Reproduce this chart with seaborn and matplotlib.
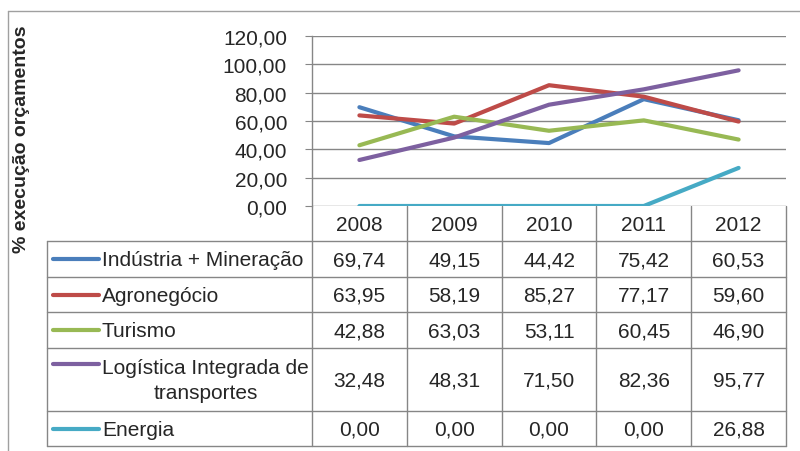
import matplotlib
matplotlib.use("Agg")
import matplotlib.pyplot as plt
import seaborn as sns
import pandas as pd

years = [2008, 2009, 2010, 2011, 2012]
sectors = ["Indústria + Mineração", "Agronegócio", "Turismo",
           "Logística Integrada de\ntransportes", "Energia"]
industria = [69.74, 49.15, 44.42, 75.42, 60.53]
agro = [63.95, 58.19, 85.27, 77.17, 59.60]
turismo = [42.88, 63.03, 53.11, 60.45, 46.90]
logistica = [32.48, 48.31, 71.50, 82.36, 95.77]
energia = [0.00, 0.00, 0.00, 0.00, 26.88]
series = [industria, agro, turismo, logistica, energia]
colors = ["#4A7EBB", "#BE4B48", "#98B954", "#7D60A0", "#46AAC5"]
yticks = [0, 20, 40, 60, 80, 100, 120]

sns.set_style("white")
plt.rcParams["font.family"] = ["Liberation Sans", "DejaVu Sans"]
FS = 15
grid_c = "#868686"

W, H = 800, 452
fig = plt.figure(figsize=(8, 4.52), dpi=100)

# background axes in pixel coordinates for the frame and data table
bg = fig.add_axes([0, 0, 1, 1])
bg.set_xlim(0, W)
bg.set_ylim(H, 0)
bg.axis("off")

# plot area (pixels)
px0, px1, py0, py1 = 312, 786, 37, 207
ax = fig.add_axes([px0 / W, 1 - py1 / H, (px1 - px0) / W, (py1 - py0) / H])

rows = []
for name, vals in zip(sectors, series):
    for i, v in enumerate(vals):
        rows.append({"sector": name, "pos": i, "value": v})
df = pd.DataFrame(rows)
sns.lineplot(data=df, x="pos", y="value", hue="sector", palette=colors,
             linewidth=3, legend=False, ax=ax, zorder=3)
ax.set_xlim(-0.5, len(years) - 0.5)
ax.set_ylim(0, 120)
ax.set_yticks(yticks)
ax.set_yticklabels([f"{t:.2f}".replace(".", ",") for t in yticks], fontsize=FS)
ax.set_xticks([])
ax.set_xlabel("")
ax.set_ylabel("")
ax.grid(axis="y", color=grid_c, linewidth=1)
ax.tick_params(axis="y", length=5, color=grid_c, left=True, pad=13)
for s in ["top", "right", "bottom"]:
    ax.spines[s].set_visible(False)
ax.spines["left"].set_color(grid_c)
ax.spines["left"].set_linewidth(1)

# outer chart frame
bg.plot([8, 8], [12, H], color="#A0A0A0", lw=1)
bg.plot([8, W], [12, 12], color="#A0A0A0", lw=1)

fig.text(22 / W, 1 - 139 / H, "% execução orçamentos", rotation=90,
         ha="center", va="center", fontsize=14, fontweight="bold")

# data table
col_w = (px1 - px0) / len(years)
col_x = [px0 + i * col_w for i in range(len(years) + 1)]
row_y = [207, 242, 278, 313, 349, 412, 447]
lx0 = 47
lc = grid_c
for x in col_x:
    bg.plot([x, x], [row_y[0], row_y[-1]], color=lc, lw=1)
bg.plot([lx0, lx0], [row_y[1], row_y[-1]], color=lc, lw=1)
for y in row_y[1:]:
    bg.plot([lx0, px1], [y, y], color=lc, lw=1)

for i, yr in enumerate(years):
    bg.text(col_x[i] + col_w / 2, (row_y[0] + row_y[1]) / 2 + 1, str(yr),
            ha="center", va="center", fontsize=FS)

for r, (name, vals, c) in enumerate(zip(sectors, series, colors)):
    top, bot = row_y[r + 1], row_y[r + 2]
    yc = (top + bot) / 2
    multi = "\n" in name
    ky = top + 16 if multi else yc
    bg.plot([53, 99], [ky, ky], color=c, lw=3, solid_capstyle="round")
    bg.text(102, yc + 1, name, ha="left", va="center", fontsize=FS,
            multialignment="center", linespacing=1.4)
    for i, v in enumerate(vals):
        bg.text(col_x[i] + col_w / 2, yc + 1, f"{v:.2f}".replace(".", ","),
                ha="center", va="center", fontsize=FS)

fig.savefig("out.png", dpi=100)
